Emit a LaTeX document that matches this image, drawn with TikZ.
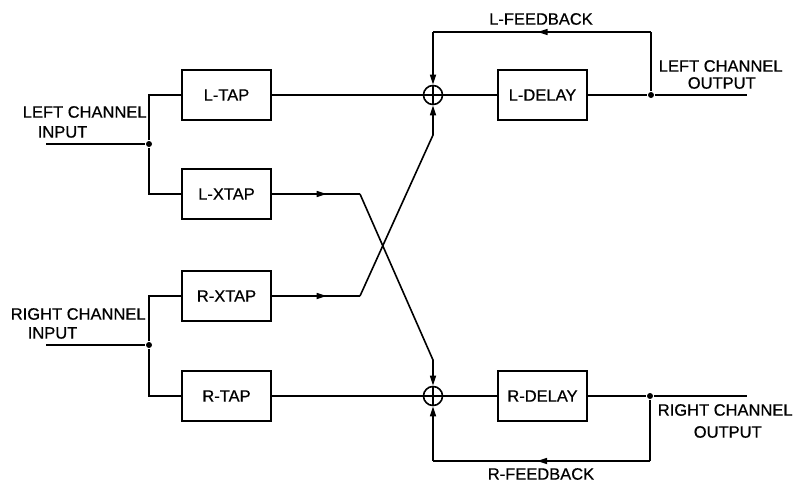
\documentclass[tikz,border=0pt]{standalone}
\usepackage{fontspec}
\setmainfont{Liberation Sans}
\newfontface\lblface{Liberation Sans}[FakeBold=0.6]
\usetikzlibrary{arrows.meta,decorations.markings}
\newcommand{\lblfont}{\lblface\fontsize{16.5}{18}\selectfont}
\begin{document}
\begin{tikzpicture}[x=1pt,y=-1pt,line width=1.6pt,
  tip/.tip={Triangle[length=10pt,width=6pt]},
  blk/.style={draw,line width=2pt,minimum width=89pt,minimum height=50pt,inner sep=0pt,font=\lblfont},
  sumnode/.style={circle,draw,line width=1.6pt,minimum size=19pt,inner sep=0pt,
    path picture={\draw[line width=1.6pt] (path picture bounding box.west) -- (path picture bounding box.east)
      (path picture bounding box.north) -- (path picture bounding box.south);}},
  dot/.style={circle,fill,inner sep=0pt,minimum size=6pt},
  txt/.style={anchor=west,inner sep=0pt,font=\lblfont},
  midarrow/.style={postaction={decorate},decoration={markings,mark=at position #1 with {\arrow{tip}}}}]
\useasboundingbox (0,0) rectangle (793,482);

% blocks
\node[blk] (ltap)   at (226.5,95)  {L-TAP};
\node[blk] (lxtap)  at (226.5,194) {L-XTAP};
\node[blk] (rxtap)  at (226.5,296) {R-XTAP};
\node[blk] (rtap)   at (226.5,396) {R-TAP};
\node[blk] (ldelay) at (542.5,95)  {L-DELAY};
\node[blk] (rdelay) at (542.5,396) {R-DELAY};
\node[sumnode] (sumT) at (433,95) {};
\node[sumnode] (sumB) at (433,396) {};

% junction dots
\node[dot] (dL)  at (149,144) {};
\node[dot] (dR)  at (149,345) {};
\node[dot] (dLo) at (651,95) {};
\node[dot] (dRo) at (650,396) {};

% coordinates
\coordinate (inL) at (46,144);
\coordinate (inR) at (46,345);
\coordinate (outL) at (747,95);
\coordinate (outR) at (747,396);
\coordinate (b1) at (360,194);
\coordinate (b2) at (433,360);
\coordinate (b3) at (360,296);
\coordinate (b4) at (433,135);
\coordinate (fbTR) at (651,32);
\coordinate (fbTL) at (433,32);
\coordinate (fbBR) at (650,461);
\coordinate (fbBL) at (433,461);

% labels
\node[txt] (t1) at (22,112) {LEFT CHANNEL};
\node[txt] (t2) at (37,132) {INPUT};
\node[txt] (t3) at (10,314) {RIGHT CHANNEL};
\node[txt] (t4) at (27,333) {INPUT};
\node[txt] (t5) at (658,66) {LEFT CHANNEL};
\node[txt] (t6) at (687,83) {OUTPUT};
\node[txt] (t7) at (657,410) {RIGHT CHANNEL};
\node[txt] (t8) at (693,432) {OUTPUT};
\node[font=\lblfont,inner sep=0pt] (t9) at (541,19) {L-FEEDBACK};
\node[font=\lblfont,inner sep=0pt] (t10) at (541,474) {R-FEEDBACK};

% inputs
\draw (inL) -- (dL);
\draw (dL) |- (ltap.west);
\draw (dL) |- (lxtap.west);
\draw (inR) -- (dR);
\draw (dR) |- (rxtap.west);
\draw (dR) |- (rtap.west);

% direct paths
\draw (ltap.east) -- (sumT.west);
\draw (rtap.east) -- (sumB.west);

% cross paths
\draw[midarrow=0.62] (lxtap.east) -- (b1);
\draw[-tip] (b1) -- (b2) -- (sumB.north);
\draw[midarrow=0.62] (rxtap.east) -- (b3);
\draw[-tip] (b3) -- (b4) -- (sumT.south);

% delays and outputs
\draw (sumT.east) -- (ldelay.west);
\draw (ldelay.east) -- (dLo) -- (outL);
\draw (sumB.east) -- (rdelay.west);
\draw (rdelay.east) -- (dRo) -- (outR);

% feedback
\draw (dLo) -- (fbTR);
\draw[midarrow=0.52] (fbTR) -- (fbTL);
\draw[-tip] (fbTL) -- (sumT.north);
\draw (dRo) -- (fbBR);
\draw[midarrow=0.52] (fbBR) -- (fbBL);
\draw[-tip] (fbBL) -- (sumB.south);
\end{tikzpicture}
\end{document}
